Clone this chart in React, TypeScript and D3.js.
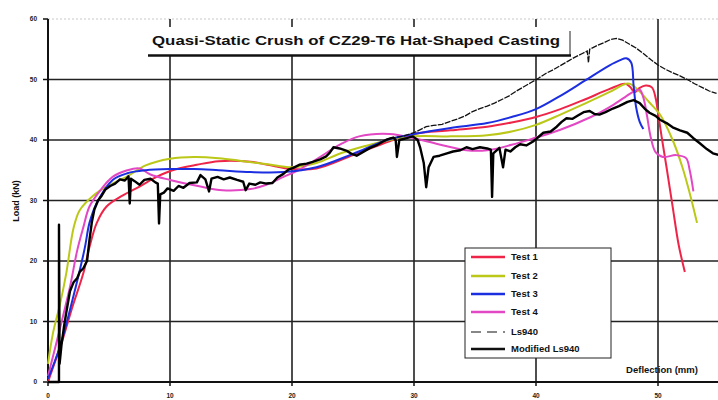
import React from "react";
import * as d3 from "d3";

type Pt = [number, number];

const xTicks = [0, 10, 20, 30, 40, 50];
const yTicks = [0, 10, 20, 30, 40, 50, 60];
const legendLabels = ["Test 1", "Test 2", "Test 3", "Test 4", "Ls940", "Modified Ls940"];
const titleText = "Quasi-Static Crush of CZ29-T6 Hat-Shaped Casting";

const test1: Pt[] = [[0,0],[0.6,3.5],[1.2,7],[2,12.4],[2.9,18],[3.4,22.3],[4,26.3],[4.8,29],[6.1,30.8],[7.5,32.3],[8.9,33.9],[10.2,35],[12.2,35.9],[14,36.5],[16.6,36.4],[18,35.9],[20,35.2],[22,35.3],[25,37.5],[28,39.8],[30,41],[33,41.6],[36,42.2],[38,42.9],[40,43.8],[42,45.1],[44,46.7],[46,48.4],[47.3,49.3],[47.7,48.8],[48.1,47.9],[48.5,48.6],[49,49],[49.5,48.7],[49.8,47],[50,44.5],[50.3,40.5],[50.7,35.5],[51.2,29],[51.7,22.6],[52.2,18.2]];

const test2: Pt[] = [[0,3],[0.4,8],[1,13],[1.5,18],[2.1,25.5],[2.6,28.4],[3.7,30.8],[4.8,32.3],[6.5,34],[8,35.8],[10,36.9],[12,37.2],[14,37],[16,36.5],[18,36],[20,35.5],[22,36.2],[24,37.8],[26,39],[28,40],[30,40.6],[33,40.6],[36,40.8],[38,41.4],[40,42.5],[42,44.2],[44,46],[46,47.9],[47.4,49.3],[47.8,49.2],[48.5,48],[49.3,46.2],[50.2,44.1],[51.2,40],[52,35.5],[52.6,31.2],[53.2,26.3]];

const test3: Pt[] = [[0,0.5],[1,6],[2,13.5],[3,22],[3.4,26.3],[4,29.6],[5.3,33.4],[6.5,34.5],[8,35],[10,35.2],[12,35.2],[14,35],[16.6,34.7],[19.3,34.7],[22,35.5],[25,37.7],[27.8,40],[30,41],[33,42],[36,42.8],[38,43.8],[40,45.1],[42,47.3],[44,49.8],[46,52.3],[46.9,53.2],[47.4,53.5],[47.8,52.8],[48,49],[48.2,45.5],[48.5,43],[48.8,41.8]];

const test4: Pt[] = [[0,1],[1,9],[1.8,15.7],[2.4,21.8],[2.9,25.6],[3.4,29],[4.3,31.7],[5.3,33.9],[6.5,35],[7.5,35.3],[8.4,34.3],[10,33.4],[12.5,32.3],[14.3,31.7],[16.6,31.9],[17.9,32.6],[19.3,33.9],[20.5,35],[22,36.8],[24,39.3],[25.5,40.6],[28,41],[30,40.3],[32,39.3],[34.3,38.3],[36,38.3],[38,39.2],[40,40.4],[42,41.7],[44.5,43.8],[46,45.4],[47.3,47.1],[48,48],[48.5,48.3],[48.8,47],[49.1,44],[49.4,40.5],[49.8,38],[50.4,37.2],[51.5,37.5],[52.3,37],[52.6,35],[52.9,31.5]];

const ls940: Pt[] = [[28,40.3],[29,40.6],[30,41.2],[30.6,41.8],[31,42.2],[31.6,42.4],[32.3,42.6],[33,43.1],[33.6,43.5],[34.2,44],[34.8,44.7],[35.4,45.2],[36,45.6],[36.6,46.1],[37.2,46.7],[37.8,47.3],[38.4,48.1],[39,48.8],[39.6,49.5],[40.2,50.2],[40.8,51],[41.4,51.6],[42,52.3],[42.6,53],[43.2,53.7],[43.8,54.3],[44.2,54.7],[44.3,52.8],[44.4,55],[45,55.6],[45.6,56.1],[46.1,56.6],[46.6,56.8],[47.1,56.5],[47.6,55.9],[48.2,55.2],[48.8,54.3],[49.4,53.3],[50,52.4],[50.6,51.7],[51.2,51.1],[51.8,50.6],[52.4,50],[53,49.3],[53.6,48.7],[54.2,48.1],[54.8,47.7]];

const modLs940: Pt[] = [[0,0],[0.9,0],[0.9,26],[0.95,3],[1.1,6],[1.3,9],[1.5,11.5],[1.8,15],[2.1,16.5],[2.4,17.2],[2.6,18.2],[2.9,18.8],[3.2,20],[3.4,23.5],[3.6,26.5],[3.8,28.5],[4.1,30],[4.4,30.8],[4.7,31.8],[5.1,32.4],[5.5,32.8],[5.9,33.5],[6.3,33.3],[6.6,34],[6.7,29.5],[6.8,33.6],[7.1,33.2],[7.5,32.6],[7.9,33.4],[8.4,33.6],[8.8,33],[9.0,32.8],[9.1,26.2],[9.2,31],[9.5,31.3],[9.8,32],[10.3,31.6],[10.7,32.4],[11.1,32.1],[11.6,32.9],[12.2,33],[12.5,34.2],[12.9,33.5],[13.2,31.5],[13.4,33.6],[13.9,33.9],[14.4,33.5],[14.9,33.8],[15.5,33.4],[16,33.1],[16.2,31.7],[16.5,32.8],[17,32.6],[17.4,33],[17.9,32.8],[18.4,32.9],[18.8,33.8],[19.3,34.4],[19.7,35.1],[20.1,35.4],[20.6,35.9],[21.2,36.1],[21.7,36.4],[22.3,36.8],[22.8,37.3],[23.1,37.9],[23.4,38.8],[23.9,38.6],[24.5,38.2],[24.9,37.7],[25.3,37.4],[25.8,38],[26.4,38.7],[27,39.2],[27.5,39.8],[27.8,40.1],[28.3,40.4],[28.5,40],[28.6,37.2],[28.8,40],[29.4,40.3],[29.9,40.6],[30.3,40],[30.5,38.8],[30.8,36.2],[31,32.2],[31.2,35.5],[31.6,37.2],[32.1,37.4],[32.7,37.8],[33.2,38.1],[33.8,38.3],[34.3,38.8],[34.8,38.5],[35.4,38.8],[36,38.6],[36.3,38.4],[36.4,30.6],[36.5,37.8],[37,38.7],[37.3,35.5],[37.5,38.4],[37.9,38.1],[38.3,38.8],[38.7,39.3],[39.2,39.1],[39.8,39.8],[40.2,40.5],[40.6,41.2],[41.2,41.4],[41.7,42.2],[42.1,43],[42.5,43.6],[43,43.5],[43.4,44],[43.9,44.6],[44.4,44.8],[44.8,44.3],[45.2,44.2],[45.7,44.6],[46.3,45.2],[46.8,45.6],[47.5,46.3],[48,46.6],[48.5,46.1],[48.9,45.2],[49.3,44.5],[49.8,44],[50.2,43.3],[50.7,42.8],[51.2,42.1],[51.8,41.6],[52.4,41.2],[52.9,40.3],[53.4,39.5],[54,38.5],[54.5,37.8],[55,37.5]];

const W = 718, H = 400;
const x = d3.scaleLinear().domain([0, 55]).range([48, 48 + 55 * 12.2]);
const y = d3.scaleLinear().domain([0, 60]).range([382, 19]);

const smooth = d3.line<Pt>().x(d => x(d[0])).y(d => y(d[1])).curve(d3.curveCatmullRom.alpha(0.5));
const straight = d3.line<Pt>().x(d => x(d[0])).y(d => y(d[1]));

const FONT = "'Liberation Sans', Arial, sans-serif";

const colors = ["#ee2548", "#bcc818", "#1c2fe0", "#e247c4", "#111", "#111"];

export default function App() {
  const tests = [test1, test2, test4, test3];
  const testColors = [colors[0], colors[1], colors[3], colors[2]];
  const lgX = 465, lgY = 248;
  const rowY = [257, 276, 294, 312, 332, 349];
  return (
    <svg width={W} height={H} style={{ position: "absolute", left: 0, top: 0, background: "#fff" }} fontFamily={FONT}>
      <rect x={0} y={0} width={W} height={H} fill="#fff" />
      <line x1={x(0)} x2={W} y1={y(60)} y2={y(60)} stroke="#c8c8c8" strokeWidth={1} strokeDasharray="2 2" />
      {yTicks.filter(v => v > 0 && v < 60).map(v => (
        <line key={"gy" + v} x1={x(0)} x2={W} y1={y(v)} y2={y(v)} stroke="#222" strokeWidth={1.6} />
      ))}
      {xTicks.filter(v => v > 0).map(v => (
        <line key={"gx" + v} x1={x(v)} x2={x(v)} y1={y(60)} y2={y(0)} stroke="#222" strokeWidth={1.6} />
      ))}
      <line x1={x(0)} x2={x(0)} y1={y(60)} y2={y(0) + 1} stroke="#111" strokeWidth={2} />
      <line x1={x(0)} x2={W} y1={y(0)} y2={y(0)} stroke="#111" strokeWidth={2} />
      {yTicks.map(v => (
        <g key={"yt" + v}>
          <line x1={x(0) - 5} x2={x(0)} y1={y(v)} y2={y(v)} stroke="#111" strokeWidth={1.5} />
          <text x={37} y={y(v)} dy="0.35em" textAnchor="end" fontSize={6.5} fontWeight="bold" fill="#222">{v}</text>
        </g>
      ))}
      {xTicks.map(v => (
        <g key={"xt" + v}>
          <line x1={x(v)} x2={x(v)} y1={y(0)} y2={y(0) + 4} stroke="#111" strokeWidth={1.5} />
          <text x={x(v)} y={396} dy="0.35em" textAnchor="middle" fontSize={6.5} fontWeight="bold" fill="#222">{v}</text>
        </g>
      ))}
      <rect x={148} y={27} width={422} height={28} fill="#fff" />
      <line x1={570} x2={570} y1={31} y2={55} stroke="#222" strokeWidth={1} />
      <line x1={148} x2={571} y1={55.5} y2={55.5} stroke="#111" strokeWidth={2.5} />
      <text x={152} y={45} fontSize={13.5} fontWeight="bold" fill="#111" textLength={408} lengthAdjust="spacingAndGlyphs">{titleText}</text>
      {tests.map((s, i) => (
        <path key={"t" + i} d={smooth(s) || ""} fill="none" stroke={testColors[i]} strokeWidth={2} strokeLinejoin="round" />
      ))}
      <path d={straight(ls940) || ""} fill="none" stroke="#111" strokeWidth={1.3} strokeDasharray="6 1.2" />
      <path d={straight(modLs940) || ""} fill="none" stroke="#000" strokeWidth={2.4} strokeLinejoin="round" />
      <text transform={`translate(19,201) rotate(-90)`} textAnchor="middle" fontSize={9} fontWeight="bold" fill="#111">Load (kN)</text>
      <text x={662} y={370} dy="0.35em" textAnchor="middle" fontSize={9.5} fontWeight="bold" fill="#111">Deflection (mm)</text>
      <rect x={lgX} y={lgY} width={146} height={110} fill="#fff" stroke="#222" strokeWidth={1} />
      {legendLabels.map((lab, i) => (
        <g key={"lg" + i}>
          <line x1={471} x2={505} y1={rowY[i]} y2={rowY[i]} stroke={colors[i]} strokeWidth={i === 4 ? 1.2 : 2.5} strokeDasharray={i === 4 ? "10 6" : undefined} />
          <text x={511} y={rowY[i]} dy="0.35em" fontSize={9.5} fontWeight="bold" fill="#111">{lab}</text>
        </g>
      ))}
    </svg>
  );
}
